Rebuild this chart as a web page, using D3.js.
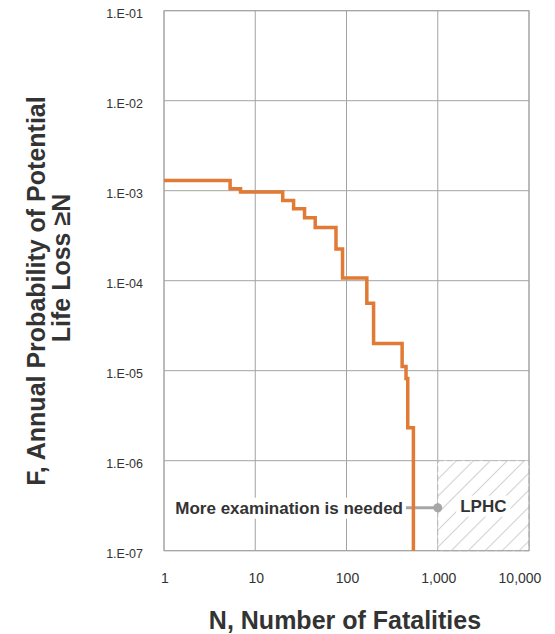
<!DOCTYPE html>
<html>
<head>
<meta charset="utf-8">
<script src="https://cdn.jsdelivr.net/npm/d3@7"></script>
<style>
  body { margin: 0; background: #fff; }
  text { font-family: "Liberation Sans", Arial, sans-serif; fill: #333; }
</style>
</head>
<body>
<div id="chart"></div>
<script>
// F-N curve (N where each step starts, F level after it)
var stepN = [1, 5.3, 6.9, 20, 26.3, 34.7, 45.4, 76.7, 90.5, 167, 198, 407, 449, 469, 541]
var stepF = [1.3e-3, 1.05e-3, 9.7e-4, 7.8e-4, 6.3e-4, 5.0e-4, 3.9e-4, 2.25e-4, 1.07e-4, 5.6e-5, 2.0e-5, 1.11e-5, 8.2e-6, 2.33e-6, 1e-7]

var xTicks = [1, 10, 100, 1000, 10000]
var xTickLabels = ['1', '10', '100', '1,000', '10,000']
var yTicks = [1e-1, 1e-2, 1e-3, 1e-4, 1e-5, 1e-6, 1e-7]
var yTickLabels = ['1.E-01', '1.E-02', '1.E-03', '1.E-04', '1.E-05', '1.E-06', '1.E-07']

// LPHC box and the note that points at it
var lphcN = [1000, 10000]
var lphcF = [1e-6, 1e-7]
var noteF = 3e-7
var noteText = 'More examination is needed'
var lphcText = 'LPHC'

var data = stepN.map(function(n, i){ return {n: n, f: stepF[i]} })

var width = 555, height = 634
var svg = d3.select('#chart').append('svg')
  .attr('width', width).attr('height', height)

var x = d3.scaleLog().domain([1, 10000]).range([164, 529])
var y = d3.scaleLog().domain([1e-1, 1e-7]).range([10.7, 550.7])

var grid = '#a3a3a3'

// grid lines
svg.append('g').selectAll('line').data(yTicks).join('line')
  .attr('x1', x(1)).attr('x2', x(10000))
  .attr('y1', d => y(d)).attr('y2', d => y(d))
  .attr('stroke', grid).attr('stroke-width', 1)
svg.append('g').selectAll('line').data(xTicks).join('line')
  .attr('x1', d => x(d)).attr('x2', d => x(d))
  .attr('y1', y(1e-1)).attr('y2', y(1e-7))
  .attr('stroke', grid).attr('stroke-width', 1)

// hatched LPHC region
var defs = svg.append('defs')
var pat = defs.append('pattern')
  .attr('id', 'hatch').attr('patternUnits', 'userSpaceOnUse')
  .attr('width', 12).attr('height', 12)
  .attr('patternTransform', 'rotate(45)')
pat.append('rect').attr('width', 12).attr('height', 12).attr('fill', '#fff')
pat.append('line').attr('x1', 0).attr('x2', 0).attr('y1', 0).attr('y2', 12)
  .attr('stroke', '#c8c8c8').attr('stroke-width', 1.6)

svg.append('rect')
  .attr('x', x(lphcN[0])).attr('y', y(lphcF[0]))
  .attr('width', x(lphcN[1]) - x(lphcN[0]))
  .attr('height', y(lphcF[1]) - y(lphcF[0]))
  .attr('fill', 'url(#hatch)')
  .attr('stroke', '#b8b8b8').attr('stroke-dasharray', '6,3').attr('stroke-width', 1)

// frame on top of the box
svg.append('rect')
  .attr('x', x(1)).attr('y', y(1e-1))
  .attr('width', x(10000) - x(1)).attr('height', y(1e-7) - y(1e-1))
  .attr('fill', 'none').attr('stroke', grid).attr('stroke-width', 1)

// y tick labels
svg.append('g').selectAll('text').data(yTicks).join('text')
  .attr('x', 143).attr('y', d => y(d) + 3)
  .attr('dy', '0.35em').attr('text-anchor', 'end')
  .style('font-size', '12.5px')
  .text((d, i) => yTickLabels[i])

// x tick labels
svg.append('g').selectAll('text').data(xTicks).join('text')
  .attr('x', (d, i) => x(d) + (i == xTicks.length - 1 ? -9 : 1))
  .attr('y', 583).attr('text-anchor', 'middle')
  .style('font-size', '14px')
  .text((d, i) => xTickLabels[i])

// axis titles
svg.append('text')
  .attr('x', 345).attr('y', 629).attr('text-anchor', 'middle')
  .style('font-size', '25px').style('font-weight', 'bold')
  .text('N, Number of Fatalities')

var yTitle = svg.append('g').attr('transform', 'rotate(-90)')
yTitle.append('text')
  .attr('x', -291).attr('y', 45).attr('text-anchor', 'middle')
  .style('font-size', '25px').style('font-weight', 'bold')
  .text('F, Annual Probability of Potential')
yTitle.append('text')
  .attr('x', -268).attr('y', 70).attr('text-anchor', 'middle')
  .style('font-size', '25px').style('font-weight', 'bold')
  .text('Life Loss \u2265N')

// label with white background box behind it
function boxedLabel(px, py, anchor, txt, pad){
  var g = svg.append('g')
  var bg = g.append('rect').attr('fill', '#fff')
  var t = g.append('text')
    .attr('x', px).attr('y', py).attr('dy', '0.35em')
    .attr('text-anchor', anchor)
    .style('font-size', '17px').style('font-weight', 'bold')
    .text(txt)
  var b = t.node().getBBox()
  bg.attr('x', b.x - pad).attr('y', b.y - 1)
    .attr('width', b.width + pad * 2).attr('height', b.height + 2)
}

var noteY = y(noteF)
boxedLabel(403, noteY, 'end', noteText, 2)
boxedLabel(x(Math.sqrt(lphcN[0] * lphcN[1])), noteY - 2, 'middle', lphcText, 4)

// connector from the note to the box
svg.append('line')
  .attr('x1', 406).attr('x2', x(lphcN[0]))
  .attr('y1', noteY).attr('y2', noteY)
  .attr('stroke', '#a6a6a6').attr('stroke-width', 3)
svg.append('circle')
  .attr('cx', x(lphcN[0])).attr('cy', noteY).attr('r', 4.5)
  .attr('fill', '#a6a6a6')

// the F-N step curve
var line = d3.line()
  .x(d => x(d.n))
  .y(d => y(d.f))
  .curve(d3.curveStepAfter)

svg.append('path')
  .attr('d', line(data))
  .attr('fill', 'none')
  .attr('stroke', '#e07a35')
  .attr('stroke-width', 3.5)
</script>
</body>
</html>
